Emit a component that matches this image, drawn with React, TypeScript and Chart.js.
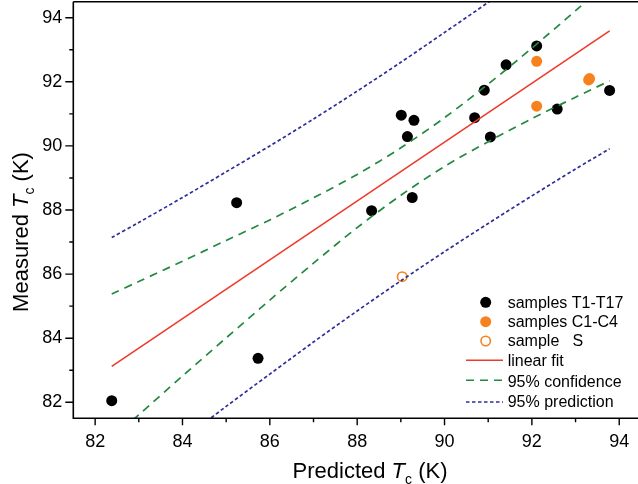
import { useEffect, useRef } from "react";
import { Chart, registerables } from "chart.js";
Chart.register(...registerables);

// Samples T1-T17 (predicted, measured)
const T_PRED = [82.38, 85.24, 85.73, 88.33, 89.26, 89.15, 89.01, 89.3, 90.69, 91.05, 90.91, 91.41, 92.11, 92.58, 93.78];
const T_MEAS = [82.05, 88.23, 83.37, 87.98, 88.39, 90.29, 90.96, 90.8, 90.88, 90.28, 91.74, 92.53, 93.12, 91.15, 91.73];
// Samples C1-C4
const C_PRED = [92.11, 92.11, 93.3, 93.32];
const C_MEAS = [92.64, 91.24, 92.06, 92.1];
// Sample S
const S_PRED = [89.03];
const S_MEAS = [85.92];
// Linear fit
const FIT_X = [82.38, 93.78];
const FIT_Y = [83.12, 93.59];
// Bands
const BAND_X = [82.38, 83, 84, 85, 86, 87, 88, 89, 90, 91, 92, 93, 93.78];
const CONF_UP = [85.38, 85.77, 86.4, 87.05, 87.69, 88.38, 89.11, 89.94, 90.88, 91.93, 93.05, 94.22, 95.15];
const CONF_LO = [80.86, 81.61, 82.82, 84.01, 85.19, 86.34, 87.45, 88.46, 89.36, 90.13, 90.85, 91.52, 92.03];
const PRED_UP = [87.14, 87.61, 88.39, 89.19, 90.0, 90.84, 91.71, 92.61, 93.54, 94.48, 95.46, 96.46, 97.27];
const PRED_LO = [79.1, 79.77, 80.83, 81.87, 82.88, 83.88, 84.85, 85.79, 86.7, 87.58, 88.44, 89.28, 89.91];
// Axis ticks
const X_TICKS = [82, 83, 84, 85, 86, 87, 88, 89, 90, 91, 92, 93, 94];
const Y_TICKS = [82, 83, 84, 85, 86, 87, 88, 89, 90, 91, 92, 93, 94];

const ORANGE = "#f5821f";
const RED = "#ee3b2b";
const GREEN = "#23893f";
const BLUE = "#2e2f96";
const FONT = "'Liberation Sans', Arial, sans-serif";

const pts = (xs: number[], ys: number[]) => xs.map((x, i) => ({ x, y: ys[i] }));

function drawTitle(ctx: CanvasRenderingContext2D, pre: string, size: number) {
  const parts: [string, string, number][] = [
    [pre, `${size}px ${FONT}`, 0],
    ["T", `italic ${size}px ${FONT}`, 0],
    ["c", `${Math.round(size * 0.65)}px ${FONT}`, size * 0.28],
    [" (K)", `${size}px ${FONT}`, 0],
  ];
  let w = 0;
  for (const [t, f] of parts) {
    ctx.font = f;
    w += ctx.measureText(t).width;
  }
  let x = -w / 2;
  for (const [t, f, dy] of parts) {
    ctx.font = f;
    ctx.fillText(t, x, dy);
    x += ctx.measureText(t).width;
  }
}

const decor = {
  id: "decor",
  afterDraw(chart: any) {
    const ctx: CanvasRenderingContext2D = chart.ctx;
    const { left, right, top, bottom } = chart.chartArea;
    const xs = chart.scales.x;
    const ys = chart.scales.y;
    ctx.save();
    ctx.strokeStyle = "#000";
    ctx.lineWidth = 1.6;
    ctx.beginPath();
    ctx.moveTo(left, top);
    ctx.lineTo(right, top);
    ctx.moveTo(left, top);
    ctx.lineTo(left, bottom);
    ctx.lineTo(right, bottom);
    ctx.stroke();
    ctx.lineWidth = 1.4;
    ctx.beginPath();
    for (const v of X_TICKS) {
      const px = xs.getPixelForValue(v);
      const len = v % 2 === 0 ? 7 : 4;
      ctx.moveTo(px, bottom);
      ctx.lineTo(px, bottom + len);
    }
    for (const v of Y_TICKS) {
      const py = ys.getPixelForValue(v);
      const len = v % 2 === 0 ? 8 : 4;
      ctx.moveTo(left, py);
      ctx.lineTo(left - len, py);
    }
    ctx.stroke();

    // axis titles
    ctx.fillStyle = "#000";
    ctx.textBaseline = "alphabetic";
    ctx.textAlign = "left";
    ctx.save();
    ctx.translate(370, 478);
    drawTitle(ctx, "Predicted ", 22);
    ctx.restore();
    ctx.save();
    ctx.translate(28, 232);
    ctx.rotate(-Math.PI / 2);
    drawTitle(ctx, "Measured ", 22);
    ctx.restore();

    // legend
    const lx = 485.7;
    const tx = 507.7;
    const rows = [302.3, 321.7, 341, 360.3, 381.3, 402];
    const labels = ["samples T1-T17", "samples C1-C4", "sample   S", "linear fit", "95% confidence", "95% prediction"];
    ctx.font = `16px ${FONT}`;
    ctx.textBaseline = "middle";
    labels.forEach((l, i) => ctx.fillText(l, tx, rows[i] + 1));
    ctx.beginPath();
    ctx.fillStyle = "#000";
    ctx.arc(lx, rows[0], 5.5, 0, Math.PI * 2);
    ctx.fill();
    ctx.beginPath();
    ctx.fillStyle = ORANGE;
    ctx.arc(lx, rows[1], 5.5, 0, Math.PI * 2);
    ctx.fill();
    ctx.beginPath();
    ctx.strokeStyle = ORANGE;
    ctx.lineWidth = 1.6;
    ctx.arc(lx, rows[2], 4.7, 0, Math.PI * 2);
    ctx.stroke();
    const lineRow = (y: number, c: string, dash: number[]) => {
      ctx.beginPath();
      ctx.strokeStyle = c;
      ctx.lineWidth = 1.6;
      ctx.setLineDash(dash);
      ctx.moveTo(466, y);
      ctx.lineTo(503, y);
      ctx.stroke();
    };
    lineRow(rows[3], RED, []);
    lineRow(rows[4] - 1, GREEN, [8, 6]);
    lineRow(rows[5], BLUE, [3.5, 2.5]);
    ctx.restore();
  },
};

export default function App() {
  const ref = useRef<HTMLCanvasElement>(null);
  useEffect(() => {
    if (!ref.current) return;
    const chart = new Chart(ref.current, {
      type: "scatter",
      data: {
        datasets: [
          { label: "95% prediction", data: pts(BAND_X, PRED_UP), showLine: true, borderColor: BLUE, borderWidth: 1.7, borderDash: [3.5, 2.5], pointRadius: 0, tension: 0.3 },
          { label: "95% prediction lower", data: pts(BAND_X, PRED_LO), showLine: true, borderColor: BLUE, borderWidth: 1.7, borderDash: [3.5, 2.5], pointRadius: 0, tension: 0.3 },
          { label: "95% confidence", data: pts(BAND_X, CONF_UP), showLine: true, borderColor: GREEN, borderWidth: 1.7, borderDash: [8, 6], pointRadius: 0, tension: 0.3 },
          { label: "95% confidence lower", data: pts(BAND_X, CONF_LO), showLine: true, borderColor: GREEN, borderWidth: 1.7, borderDash: [8, 6], pointRadius: 0, tension: 0.3 },
          { label: "linear fit", data: pts(FIT_X, FIT_Y), showLine: true, borderColor: RED, borderWidth: 1.6, pointRadius: 0 },
          { label: "sample S", data: pts(S_PRED, S_MEAS), pointRadius: 4.7, pointBorderWidth: 1.6, borderColor: ORANGE, backgroundColor: "#ffffff" },
          { label: "samples C1-C4", data: pts(C_PRED, C_MEAS), pointRadius: 5.5, borderWidth: 0, backgroundColor: ORANGE, borderColor: ORANGE },
          { label: "samples T1-T17", data: pts(T_PRED, T_MEAS), pointRadius: 5.5, borderWidth: 0, backgroundColor: "#000", borderColor: "#000" },
        ],
      },
      options: {
        responsive: false,
        animation: false,
        layout: { autoPadding: false, padding: { top: 1.7, right: 0, left: 0, bottom: 0 } },
        plugins: { legend: { display: false }, tooltip: { enabled: false } },
        scales: {
          x: {
            type: "linear",
            min: 81.5,
            max: 94.43,
            afterBuildTicks: (s: any) => { s.ticks = X_TICKS.map((v) => ({ value: v })); },
            afterFit: (s: any) => { s.height = 65.7; s.paddingLeft = 0; s.paddingRight = 0; s.paddingTop = 0; s.paddingBottom = 0; },
            grid: { display: false, drawTicks: false },
            border: { display: false },
            ticks: {
              padding: 13,
              color: "#000",
              font: { family: FONT, size: 18 },
              maxRotation: 0,
              autoSkip: false,
              callback: (v: any) => (Number(v) % 2 === 0 ? String(v) : ""),
            },
          },
          y: {
            type: "linear",
            min: 81.5,
            max: 94.5,
            afterBuildTicks: (s: any) => { s.ticks = Y_TICKS.map((v) => ({ value: v })); },
            afterFit: (s: any) => { s.width = 73.3; s.paddingLeft = 0; s.paddingRight = 0; s.paddingTop = 0; s.paddingBottom = 0; },
            grid: { display: false, drawTicks: false },
            border: { display: false },
            ticks: {
              padding: 11,
              color: "#000",
              font: { family: FONT, size: 18 },
              autoSkip: false,
              callback: (v: any) => (Number(v) % 2 === 0 ? String(v) : ""),
            },
          },
        },
      },
      plugins: [decor],
    });
    return () => chart.destroy();
  }, []);
  return (
    <div style={{ position: "fixed", left: 0, top: 0, width: 638, height: 484, background: "#fff" }}>
      <canvas ref={ref} width={638} height={484} />
    </div>
  );
}
